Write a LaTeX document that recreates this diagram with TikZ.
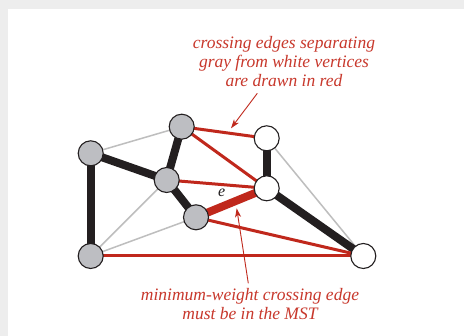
\documentclass[tikz,border=0pt]{standalone}
\usepackage{fontspec}
\usepackage{tikz}
\usetikzlibrary{arrows,arrows.meta,positioning,calc,backgrounds}

\newfontfamily\notefont{Liberation Serif}

\definecolor{mstred}{RGB}{192,40,28}
\definecolor{txtred}{RGB}{200,56,44}
\definecolor{vgray}{RGB}{189,190,194}
\definecolor{egray}{RGB}{190,190,190}
\definecolor{eblack}{RGB}{35,31,32}

\begin{document}
\begin{tikzpicture}[x=1pt, y=-1pt,
		vert/.style={circle, draw=eblack, line width=1.1pt, minimum size=25pt, inner sep=0pt},
		grayv/.style={vert, fill=vgray},
		whitev/.style={vert, fill=white},
		thin edge/.style={draw=egray, line width=1.5pt},
		tree edge/.style={draw=eblack, line width=8pt},
		cross edge/.style={draw=mstred, line width=3pt},
		min edge/.style={draw=mstred, line width=8pt},
		note/.style={text=txtred, font=\notefont\fontsize{17.5}{19}\selectfont\itshape, align=center},
		pointer/.style={draw=mstred, line width=0.9pt, -{Stealth[length=9pt, width=6pt, inset=2.5pt]}}]
		% panel with shadow
		\begin{scope}[on background layer]
			\fill[gray!14] (0,0) rectangle (464,336);
			\fill[white] (8,9) rectangle (464,336);
		\end{scope}
		\useasboundingbox (0,0) rectangle (464,336);

		% vertices
		\node[grayv] (a) at (90.7,153.3) {};
		\node[grayv] (b) at (181.7,126.7) {};
		\node[grayv] (c) at (166.7,180) {};
		\node[grayv] (d) at (196,217.3) {};
		\node[grayv] (f) at (90.7,256) {};
		\node[whitev] (w1) at (266.7,138.3) {};
		\node[whitev] (w2) at (266.7,188.3) {};
		\node[whitev] (w3) at (363.3,256) {};

		\begin{scope}[on background layer]
			\draw[thin edge] (a.center) -- (b.center);
			\draw[thin edge] (c.center) -- (f.center);
			\draw[thin edge] (d.center) -- (f.center);
			\draw[thin edge] (w1.center) -- (w3.center);
			\draw[tree edge] (a.center) -- (c.center);
			\draw[tree edge] (b.center) -- (c.center);
			\draw[tree edge] (c.center) -- (d.center);
			\draw[tree edge] (a.center) -- (f.center);
			\draw[tree edge] (w1.center) -- (w2.center);
			\draw[tree edge] (w2.center) -- (w3.center);
			\draw[cross edge] (b.center) -- (w1.center);
			\draw[cross edge] (b.center) -- (w2.center);
			\draw[cross edge] (c.center) -- (w2.center);
			\draw[cross edge] (d.center) -- (w3.center);
			\draw[cross edge] (f.center) -- (w3.center);
			\draw[min edge] (d.center) -- (w2.center);
		\end{scope}
		\node[font=\notefont\fontsize{16}{17}\selectfont\itshape, text=eblack] (elabel) at (221.7,193) {e};

		% notes
		\node[note] (top note) at (284,62) {crossing edges separating\\gray from white vertices\\are drawn in red};
		\node[note] (bottom note) at (250,304) {minimum-weight crossing edge\\must be in the MST};
		\coordinate (t1) at (257.3,93.3);
		\coordinate (h1) at (231,128.3);
		\coordinate (t2) at (248.3,283.3);
		\coordinate (h2) at (236.7,208.3);
		\draw[pointer] (t1) -- (h1);
		\draw[pointer] (t2) -- (h2);
	\end{tikzpicture}
\end{document}
